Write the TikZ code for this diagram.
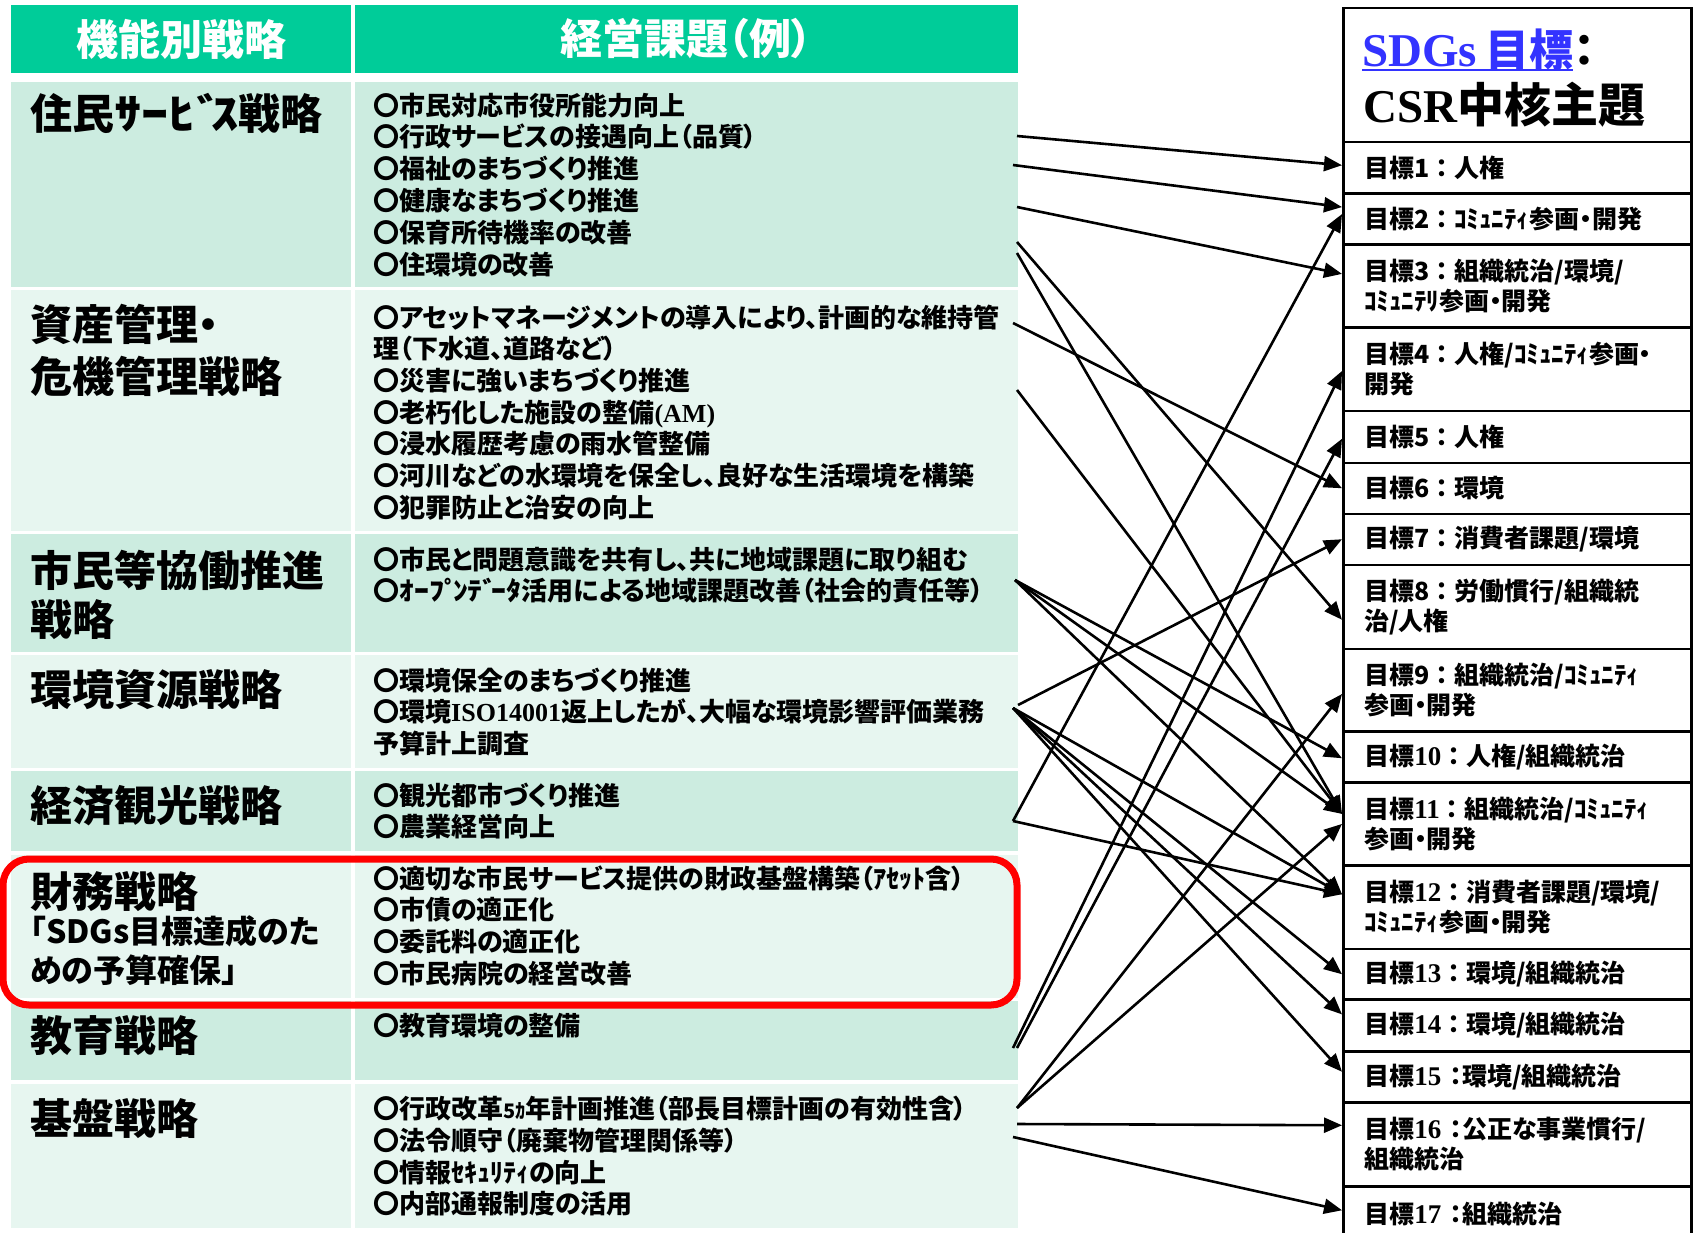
\documentclass[tikz,border=0pt]{standalone}
\usepackage{fontspec}
\setmainfont{Noto Sans CJK JP}[RawFeature=+palt]
\newfontfamily\jpfw{Noto Sans CJK JP}
\newfontfamily\tms{Liberation Serif}
\usetikzlibrary{arrows.meta}
\definecolor{hdr}{RGB}{0,204,153}
\definecolor{mintA}{RGB}{204,236,224}
\definecolor{mintB}{RGB}{231,246,240}
\definecolor{sdgblue}{RGB}{51,51,255}
\newcommand{\tmsnum}[1]{{\tms\bfseries\fontsize{27}{30}\selectfont #1}}
\newcommand{\tmsin}[1]{{\tms\bfseries #1}}
\newcommand{\hwk}[1]{{\jpfw\bfseries #1}}
\newcommand{\hwks}[2]{\scalebox{#1}[1]{\jpfw\bfseries #2}}
\tikzset{
 lab/.style={anchor=base west, inner sep=0pt, text width=330pt, align=left, font=\fontsize{42}{52}\selectfont\bfseries},
 item/.style={anchor=base west, inner sep=0pt, text width=645pt, align=left, font=\fontsize{26}{31.8}\selectfont\bfseries},
 hdrtxt/.style={text=white, inner sep=0pt, font=\fontsize{42}{42}\selectfont\bfseries},
 gbox/.style={draw, line width=2.5pt, anchor=north west, minimum width=348pt, text width=306pt, inner xsep=21pt, inner ysep=0pt, align=left, font=\fontsize{25}{30}\selectfont\bfseries},
 arr/.style={line width=2.6pt, -{Triangle[length=18pt,width=15pt]}},
}
\begin{document}
\begin{tikzpicture}[x=1pt,y=-1pt]
\useasboundingbox (0,0) rectangle (1694,1232);
\fill[white] (0,0) rectangle (1694,1232);
% header
\fill[hdr] (11,5) rectangle (351,73);
\fill[hdr] (355,5) rectangle (1018,73);
\node[hdrtxt] (h1) at (181,39) {機能別戦略};
\node[hdrtxt] (h2) at (686,39) {経営課題（例）};
% rows
\fill[mintA] (11,82) rectangle (351,287);   \fill[mintA] (355,82) rectangle (1018,287);
\fill[mintB] (11,290) rectangle (351,531);  \fill[mintB] (355,290) rectangle (1018,531);
\fill[mintA] (11,534) rectangle (351,652);  \fill[mintA] (355,534) rectangle (1018,652);
\fill[mintB] (11,655) rectangle (351,768);  \fill[mintB] (355,655) rectangle (1018,768);
\fill[mintA] (11,771) rectangle (351,851);  \fill[mintA] (355,771) rectangle (1018,851);
\fill[mintB] (11,855) rectangle (351,998);  \fill[mintB] (355,855) rectangle (1018,998);
\fill[mintA] (11,1001) rectangle (351,1080); \fill[mintA] (355,1001) rectangle (1018,1080);
\fill[mintB] (11,1084) rectangle (351,1228); \fill[mintB] (355,1084) rectangle (1018,1228);
% left labels
\node[lab] (l1) at (30,129) {住民\hwks{1.3}{ｻｰﾋﾞ\kern-.22emｽ}戦略};
\node[lab] (l2) at (30,340) {資産管理・\\危機管理戦略};
\node[lab, font=\fontsize{42}{49}\selectfont\bfseries] (l3) at (30,586) {市民等協働推進\\戦略};
\node[lab] (l4) at (30,705) {環境資源戦略};
\node[lab] (l5) at (30,821) {経済観光戦略};
\node[lab] (l6) at (30,907) {財務戦略};
\node[lab, font=\fontsize{32}{39}\selectfont\bfseries] (l6b) at (30,943) {「SDGs目標達成のた\\めの予算確保」};
\node[lab] (l7) at (30,1051) {教育戦略};
\node[lab] (l8) at (30,1134) {基盤戦略};
% items
\node[item] (t1) at (373,115) {〇市民対応市役所能力向上\\〇行政サービスの接遇向上（品質）\\〇福祉のまちづくり推進\\〇健康なまちづくり推進\\〇保育所待機率の改善\\〇住環境の改善};
\node[item, font=\fontsize{26}{31.7}\selectfont\bfseries] (t2) at (373,327) {〇アセットマネージメントの導入により、計画的な維持管\\理（下水道、道路など）\\〇災害に強いまちづくり推進\\〇老朽化した施設の整備\tmsin{(AM)}\\〇浸水履歴考慮の雨水管整備\\〇河川などの水環境を保全し、良好な生活環境を構築\\〇犯罪防止と治安の向上};
\node[item] (t3) at (373,569) {〇市民と問題意識を共有し、共に地域課題に取り組む\\〇\hwks{1.15}{ｵｰﾌﾟ\kern-.2emﾝﾃﾞ\kern-.2emｰﾀ}活用による地域課題改善（社会的責任等）};
\node[item] (t4) at (373,690) {〇環境保全のまちづくり推進\\〇環境\tmsin{ISO14001}返上したが、大幅な環境影響評価業務\\予算計上調査};
\node[item] (t5) at (373,805) {〇観光都市づくり推進\\〇農業経営向上};
\node[item] (t6) at (373,888) {〇適切な市民サービス提供の財政基盤構築（\hwk{ｱｾｯﾄ}含）\\〇市債の適正化\\〇委託料の適正化\\〇市民病院の経営改善};
\node[item] (t7) at (373,1035) {〇教育環境の整備};
\node[item] (t8) at (373,1118.5) {〇行政改革{\fontsize{20}{20}\selectfont\hwk{5ｶ}}年計画推進（部長目標計画の有効性含）\\〇法令順守（廃棄物管理関係等）\\〇情報\hwk{ｾｷｭﾘﾃｨ}の向上\\〇内部通報制度の活用};
% red frame
\draw[red, line width=7pt, rounded corners=26pt] (3,859) rectangle (1017,1005);
% right boxes
\node[gbox, minimum height=134pt] (g0) at (1342,6.7) {};
\node[anchor=base west, inner sep=0pt, text=sdgblue] (sdg) at (1362,66) {{\tms\bfseries\fontsize{47}{47}\selectfont SDGs}\hspace{8pt}{\fontsize{44}{44}\selectfont\bfseries 目標}};
\draw[sdgblue, line width=2pt] ([yshift=-4pt]sdg.base west) -- ([yshift=-4pt]sdg.base east);
\node[anchor=base west, inner sep=0pt] (colon) at (sdg.base east) {\fontsize{44}{44}\selectfont\bfseries ：};
\node[anchor=base west, inner sep=0pt] (csr) at (1363,122) {{\tms\bfseries\fontsize{47}{47}\selectfont CSR}{\fontsize{47}{47}\selectfont\bfseries 中核主題}};
\node[gbox, minimum height=51.6pt] (g1) at (1342,140.7) {目標1\hwk{：}人権};
\node[gbox, minimum height=51pt] (g2) at (1342,192.3) {目標2\hwk{：ｺﾐｭﾆﾃｨ}参画・開発};
\node[gbox, minimum height=82.7pt] (g3) at (1342,243.3) {目標3\hwk{：}組織統治/環境/\\\hwk{ｺﾐｭﾆﾃﾘ}参画・開発};
\node[gbox, minimum height=83.5pt] (g4) at (1342,326) {目標4\hwk{：}人権/\hwk{ｺﾐｭﾆﾃｨ}参画・\\開発};
\node[gbox, minimum height=52pt] (g5) at (1342,409.5) {目標5\hwk{：}人権};
\node[gbox, minimum height=51pt] (g6) at (1342,461.5) {目標6\hwk{：}環境};
\node[gbox, minimum height=51pt] (g7) at (1342,512.5) {目標7\hwk{：}消費者課題/環境};
\node[gbox, minimum height=84pt] (g8) at (1342,563.5) {目標8\hwk{：}労働慣行/組織統\\治/人権};
\node[gbox, minimum height=82.5pt] (g9) at (1342,647.5) {目標9\hwk{：}組織統治/\hwk{ｺﾐｭﾆﾃｨ}\\参画・開発};
\node[gbox, minimum height=51pt] (g10) at (1342,730) {目標\tmsnum{10}\hwk{：}人権/組織統治};
\node[gbox, minimum height=83.3pt] (g11) at (1342,781) {目標\tmsnum{11}\hwk{：}組織統治/\hwk{ｺﾐｭﾆﾃｨ}\\参画・開発};
\node[gbox, minimum height=83.4pt] (g12) at (1342,864.3) {目標\tmsnum{12}\hwk{：}消費者課題/環境/\\\hwk{ｺﾐｭﾆﾃｨ}参画・開発};
\node[gbox, minimum height=50.6pt] (g13) at (1342,947.7) {目標\tmsnum{13}\hwk{：}環境/組織統治};
\node[gbox, minimum height=51.7pt] (g14) at (1342,998.3) {目標\tmsnum{14}\hwk{：}環境/組織統治};
\node[gbox, minimum height=51pt] (g15) at (1342,1050) {目標\tmsnum{15} ：環境/組織統治};
\node[gbox, minimum height=84pt] (g16) at (1342,1101) {目標\tmsnum{16} ：公正な事業慣行/\\組織統治};
\node[gbox, minimum height=55pt] (g17) at (1342,1185) {目標\tmsnum{17} ：組織統治};
% arrow start points
\coordinate (s1) at (1017,136);
\coordinate (s2) at (1013,165);
\coordinate (s3) at (1017,207);
\coordinate (s4) at (1017,242);
\coordinate (s5) at (1017,253);
\coordinate (s6) at (1013,323);
\coordinate (s7) at (1017,390);
\coordinate (s8) at (1015,580);
\coordinate (s9) at (1018,705);
\coordinate (s10) at (1013,708);
\coordinate (s11) at (1013,821);
\coordinate (s12) at (1013,1048);
\coordinate (s13) at (1017,1048);
\coordinate (s14) at (1017,1108);
\coordinate (s15) at (1017,1124);
\coordinate (s16) at (1013,1137);
% arrows
\draw[arr] (s1) -- ([yshift=2.5pt]g1.west);
\draw[arr] (s2) -- ([yshift=12pt]g2.west);
\draw[arr] (s3) -- ([yshift=12pt]g3.west);
\draw[arr] (s4) -- ([yshift=-13pt]g8.west);
\draw[arr] (s5) -- ([yshift=10pt]g11.west);
\draw[arr] (s6) -- (g6.west);
\draw[arr] (s7) -- ([yshift=10pt]g11.west);
\draw[arr] (s8) -- ([yshift=-1.5pt]g10.west);
\draw[arr] (s8) -- ([yshift=10pt]g11.west);
\draw[arr] (s8) -- ([yshift=13pt]g12.west);
\draw[arr] (s9) -- (g7.west);
\draw[arr] (s10) -- ([yshift=13pt]g12.west);
\draw[arr] (s10) -- (g13.west);
\draw[arr] (s10) -- ([yshift=11pt]g14.west);
\draw[arr] (s10) -- ([yshift=5pt]g15.west);
\draw[arr] (s11) -- ([yshift=5pt]g2.west);
\draw[arr] (s11) -- ([yshift=13pt]g12.west);
\draw[arr] (s12) -- ([yshift=-2pt]g4.west);
\draw[arr] (s13) -- ([yshift=-2pt]g5.west);
\draw[arr] (s14) -- ([yshift=-4pt]g9.west);
\draw[arr] (s14) -- (g11.west);
\draw[arr] (s15) -- ([yshift=19pt]g16.west);
\draw[arr] (s16) -- ([yshift=3.5pt]g17.west);
\end{tikzpicture}
\end{document}
